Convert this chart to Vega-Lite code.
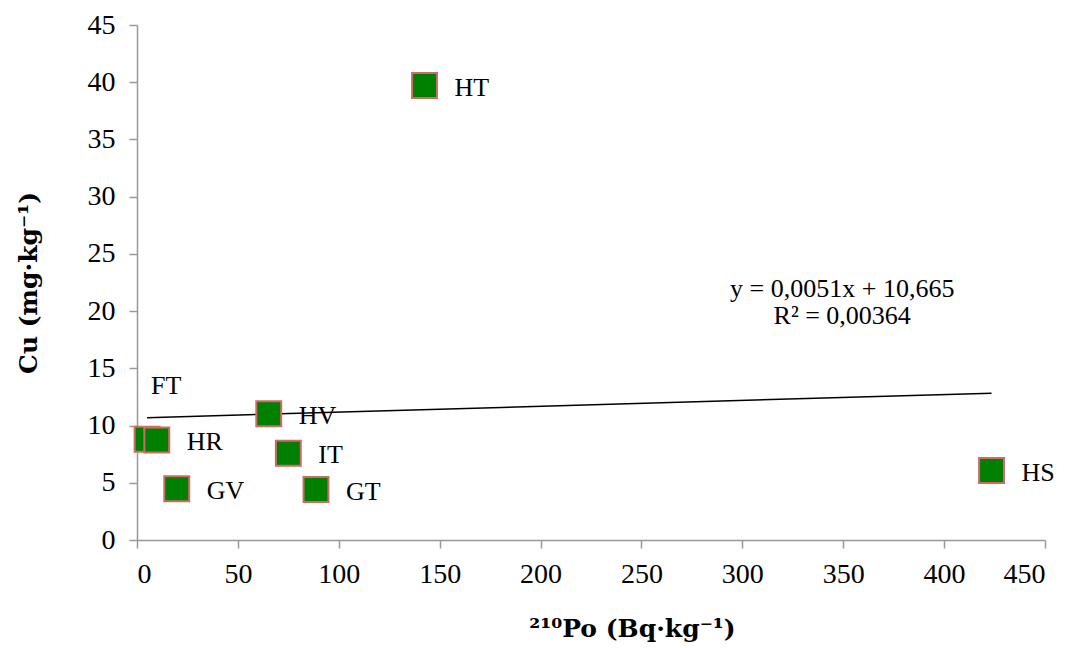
{
  "$schema": "https://vega.github.io/schema/vega-lite/v6.json",
  "width": 908,
  "height": 515,
  "autosize": {"type": "none"},
  "padding": {"left": 137, "top": 25, "right": 24, "bottom": 108},
  "background": "white",
  "config": {
    "view": {"stroke": null},
    "font": "Liberation Serif",
    "axis": {
      "grid": false,
      "domainColor": "#999999",
      "domainWidth": 1.5,
      "tickColor": "#999999",
      "tickWidth": 1.5,
      "tickSize": 8,
      "labelFont": "Liberation Serif",
      "labelFontSize": 28,
      "labelColor": "#000000",
      "titleFont": "DejaVu Serif",
      "titleFontSize": 25,
      "titleFontWeight": "bold",
      "titleColor": "#000000"
    }
  },
  "datasets": {
    "pts": [
      {"site": "FT", "po": 5.0, "cu": 8.8},
      {"site": "HR", "po": 9.8, "cu": 8.74},
      {"site": "GV", "po": 19.7, "cu": 4.48},
      {"site": "HV", "po": 65.3, "cu": 11.03},
      {"site": "IT", "po": 75.0, "cu": 7.58},
      {"site": "GT", "po": 88.7, "cu": 4.41},
      {"site": "HT", "po": 142.5, "cu": 39.71},
      {"site": "HS", "po": 423.5, "cu": 6.07}
    ],
    "trend": [
      {"po": 5.0, "cu": 10.69},
      {"po": 423.5, "cu": 12.825}
    ],
    "eq": [
      {"po": 349.5, "cu": 21.9, "txt": ["y = 0,0051x + 10,665", "R² = 0,00364"]}
    ]
  },
  "layer": [
    {
      "data": {"name": "trend"},
      "mark": {"type": "line", "color": "#000000", "strokeWidth": 1.5},
      "encoding": {
        "x": {"field": "po", "type": "quantitative", "scale": {"domain": [0, 450]},
              "axis": {"values": [0,50,100,150,200,250,300,350,400,450], "title": "²¹⁰Po (Bq·kg⁻¹)", "labelPadding": 12, "titlePadding": 28, "titleX": 495}},
        "y": {"field": "cu", "type": "quantitative", "scale": {"domain": [0, 45]},
              "axis": {"values": [0,5,10,15,20,25,30,35,40,45], "title": "Cu (mg·kg⁻¹)", "labelPadding": 14, "titlePadding": 46}}
      }
    },
    {
      "data": {"name": "pts"},
      "mark": {"type": "point", "shape": "square", "filled": true, "size": 620, "fill": "#008000", "stroke": "#D06A66", "strokeWidth": 2, "opacity": 1},
      "encoding": {
        "x": {"field": "po", "type": "quantitative"},
        "y": {"field": "cu", "type": "quantitative"}
      }
    },
    {
      "data": {"name": "pts"},
      "transform": [{"filter": "datum.site !== 'FT'"}],
      "mark": {"type": "text", "align": "left", "baseline": "middle", "dx": 30, "dy": 2, "fontSize": 26, "font": "Liberation Serif", "color": "#000000"},
      "encoding": {
        "x": {"field": "po", "type": "quantitative"},
        "y": {"field": "cu", "type": "quantitative"},
        "text": {"field": "site"}
      }
    },
    {
      "data": {"name": "pts"},
      "transform": [{"filter": "datum.site === 'FT'"}],
      "mark": {"type": "text", "align": "left", "baseline": "middle", "dx": 4, "dy": -53, "fontSize": 26, "font": "Liberation Serif", "color": "#000000"},
      "encoding": {
        "x": {"field": "po", "type": "quantitative"},
        "y": {"field": "cu", "type": "quantitative"},
        "text": {"field": "site"}
      }
    },
    {
      "data": {"name": "eq"},
      "mark": {"type": "text", "align": "center", "baseline": "middle", "fontSize": 26, "font": "Liberation Serif", "color": "#000000", "lineHeight": 27},
      "encoding": {
        "x": {"field": "po", "type": "quantitative"},
        "y": {"field": "cu", "type": "quantitative"},
        "text": {"field": "txt"}
      }
    }
  ]
}
